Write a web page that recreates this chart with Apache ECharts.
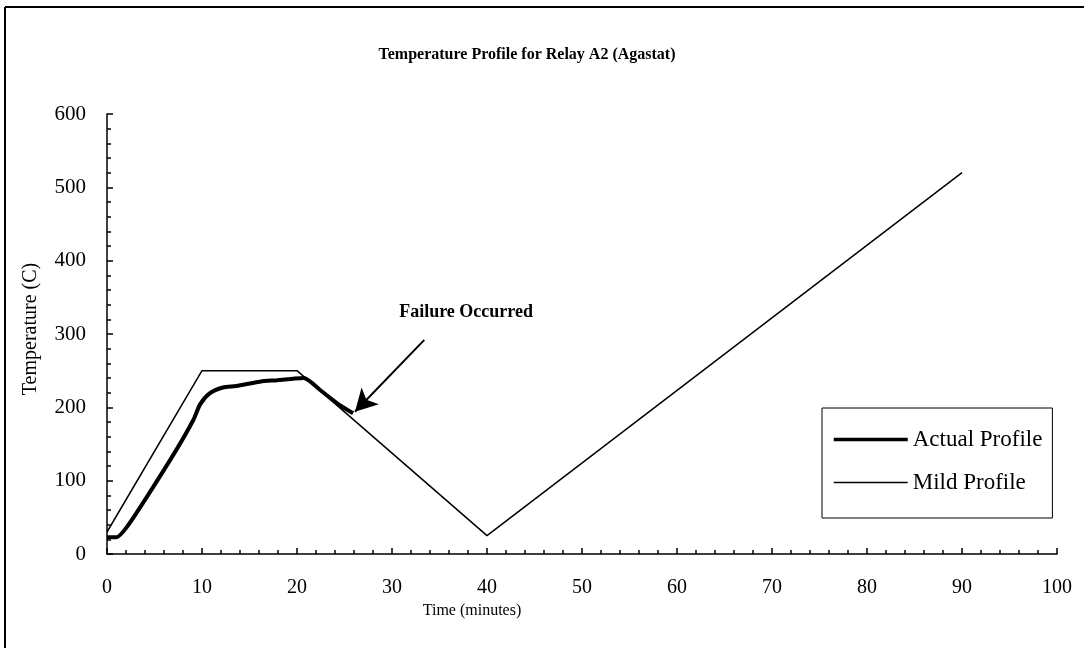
<!DOCTYPE html>
<html>
<head>
<meta charset="utf-8">
<script src="https://cdn.jsdelivr.net/npm/echarts@6/dist/echarts.min.js"></script>
<style>
  html, body { margin: 0; padding: 0; background: #fff; }
  #chart { width: 1084px; height: 648px; }
</style>
</head>
<body>
<div id="chart"></div>
<script>
// time (minutes) / temperature (C)
var actualTime = [0, 1.0, 2.1, 4.2, 7.3, 9.1, 9.8, 10.8, 12.2, 13.6, 16.1, 17.9, 19.6, 20.7, 22.4, 24.5, 25.9];
var actualTemp = [23, 23, 37, 78, 142, 183, 204, 219, 227, 229, 235, 237, 239, 240, 224, 203, 192];
var mildTime = [0, 10, 20, 40, 90];
var mildTemp = [30, 250, 250, 25, 520];
var xTicks = [0, 100, 10];   // min, max, interval
var yTicks = [0, 600, 100];
// arrow tail / head and note position, in data units
var failureArrow = [[33.4, 292], [26.1, 194]];
var failureNote = [37.8, 330];

var serif = '"Liberation Serif", "DejaVu Serif", serif';

function zip(xs, ys) {
  var out = [];
  for (var i = 0; i < xs.length; i++) out.push([xs[i], ys[i]]);
  return out;
}

var chart = echarts.init(document.getElementById('chart'));
chart.setOption({
  backgroundColor: '#fff',
  animation: false,
  title: {
    text: 'Temperature Profile for Relay A2 (Agastat)',
    left: 522,
    top: 42,
    textAlign: 'center',
    textStyle: { fontFamily: serif, fontWeight: 'bold', fontSize: 16, color: '#000' }
  },
  grid: { left: 107, right: 27, top: 114, bottom: 94 },
  legend: {
    orient: 'vertical',
    left: 822,
    top: 408,
    padding: [20, 10, 24, 10],
    itemGap: 20,
    itemWidth: 74,
    itemHeight: 14,
    borderColor: '#000',
    borderWidth: 1,
    itemStyle: { opacity: 0 },
    textStyle: { fontFamily: serif, fontSize: 23, color: '#000' },
    data: [
      { name: 'Actual Profile', lineStyle: { width: 3.5 } },
      { name: 'Mild Profile', lineStyle: { width: 1.5 } }
    ]
  },
  xAxis: {
    type: 'value',
    min: xTicks[0], max: xTicks[1], interval: xTicks[2],
    name: 'Time (minutes)',
    nameLocation: 'middle',
    nameGap: 44,
    nameTextStyle: { fontFamily: serif, fontSize: 16, color: '#000', padding: [0, 220, 0, 0] },
    axisLine: { lineStyle: { color: '#000', width: 1.5 } },
    axisTick: { inside: true, length: 6, lineStyle: { color: '#000', width: 1.5 } },
    minorTick: { show: true, splitNumber: 5, length: 4, lineStyle: { color: '#000', width: 1.5 } },
    axisLabel: { margin: 24, fontFamily: serif, fontSize: 20, color: '#000' },
    splitLine: { show: false }
  },
  yAxis: {
    type: 'value',
    min: yTicks[0], max: yTicks[1], interval: yTicks[2],
    name: 'Temperature (C)',
    nameLocation: 'middle',
    nameGap: 66,
    nameTextStyle: { fontFamily: serif, fontSize: 20, color: '#000', padding: [0, 0, 0, 10] },
    axisLine: { show: true, lineStyle: { color: '#000', width: 1.5 } },
    axisTick: { show: true, inside: true, length: 6, lineStyle: { color: '#000', width: 1.5 } },
    minorTick: { show: true, splitNumber: 5, length: 4, lineStyle: { color: '#000', width: 1.5 } },
    axisLabel: { margin: 21, fontFamily: serif, fontSize: 21, color: '#000' },
    splitLine: { show: false }
  },
  graphic: [
    { type: 'line', shape: { x1: 5, y1: 7, x2: 1084, y2: 7 }, style: { stroke: '#000', lineWidth: 2 } },
    { type: 'line', shape: { x1: 5, y1: 7, x2: 5, y2: 648 }, style: { stroke: '#000', lineWidth: 2 } }
  ],
  series: [
    {
      name: 'Actual Profile',
      type: 'line',
      data: zip(actualTime, actualTemp),
      symbol: 'none',
      smooth: 0.25,
      z: 3,
      lineStyle: { color: '#000', width: 4 },
      itemStyle: { color: '#000' }
    },
    {
      name: 'Mild Profile',
      type: 'line',
      data: zip(mildTime, mildTemp),
      symbol: 'none',
      z: 2,
      lineStyle: { color: '#000', width: 1.5 },
      itemStyle: { color: '#000' },
      markLine: {
        silent: true,
        symbol: ['none', 'arrow'],
        symbolSize: [18, 22],
        lineStyle: { color: '#000', width: 2, type: 'solid' },
        label: { show: false },
        data: [[{ coord: failureArrow[0] }, { coord: failureArrow[1] }]]
      },
      markPoint: {
        silent: true,
        symbol: 'circle',
        symbolSize: 0,
        label: {
          show: true,
          position: 'inside',
          formatter: 'Failure Occurred',
          fontFamily: serif,
          fontWeight: 'bold',
          fontSize: 18,
          color: '#000'
        },
        data: [{ coord: failureNote }]
      }
    }
  ]
});
</script>
</body>
</html>
